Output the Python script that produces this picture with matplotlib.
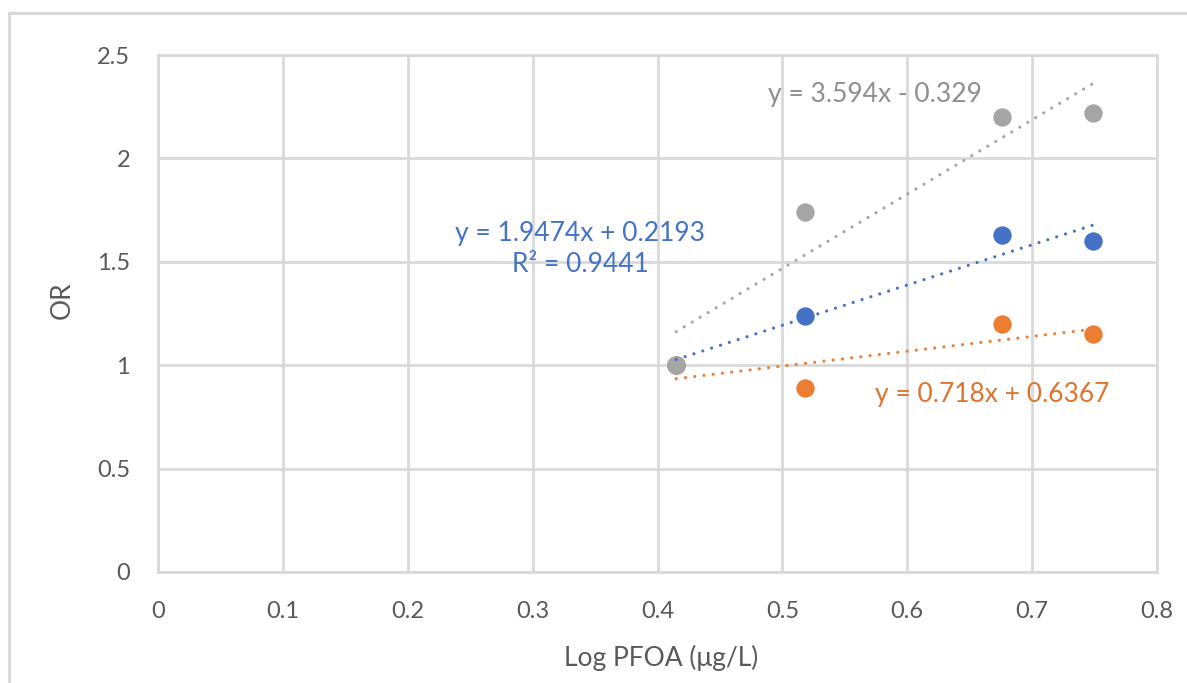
import matplotlib.pyplot as plt
from matplotlib.lines import Line2D
import numpy as np

# Data
log_pfoa = [0.415, 0.518, 0.676, 0.749]
or_blue = [1.00, 1.24, 1.63, 1.60]
or_orange = [1.00, 0.89, 1.20, 1.15]
or_gray = [1.00, 1.74, 2.20, 2.22]

# Trendline coefficients (slope, intercept) as printed
fit_blue = [1.9474, 0.2193]
fit_orange = [0.718, 0.6367]
fit_gray = [3.594, -0.329]

x_ticks = [0, 0.1, 0.2, 0.3, 0.4, 0.5, 0.6, 0.7, 0.8]
y_ticks = [0, 0.5, 1, 1.5, 2, 2.5]

blue = "#4472C4"
orange = "#ED7D31"
gray = "#A5A5A5"
grid_col = "#D9D9D9"
text_col = "#595959"

plt.rcParams['font.family'] = ['Lato', 'DejaVu Sans']

fig = plt.figure(figsize=(11.87, 6.83), dpi=100)
ax = fig.add_axes([158/1187, 1 - 572/683, 999/1187, 517/683])

# outer chart border (left and top visible)
fig.add_artist(Line2D([9/1187, 9/1187], [0, 1 - 13/683], color=grid_col, lw=2.2,
                      transform=fig.transFigure))
fig.add_artist(Line2D([9/1187, 1], [1 - 13/683, 1 - 13/683], color=grid_col, lw=2.2,
                      transform=fig.transFigure))

for ys, col in [(or_blue, blue), (or_orange, orange), (or_gray, gray)]:
    ax.scatter(log_pfoa, ys, s=175, color=col, zorder=3, linewidths=0)

xs = np.array([min(log_pfoa), max(log_pfoa)])
for fit, col in [(fit_blue, blue), (fit_orange, orange), (fit_gray, gray)]:
    ax.plot(xs, fit[0] * xs + fit[1], color=col, lw=2.3,
            linestyle=(0, (0.01, 2.9)), dash_capstyle='round', zorder=4)

ax.text(0.574, 2.307, "y = 3.594x - 0.329", color="#8E8E8E", fontsize=19,
        ha='center', va='center')
ax.text(0.338, 1.562, "y = 1.9474x + 0.2193\nR² = 0.9441", color=blue, fontsize=19,
        ha='center', va='center', linespacing=1.3)
ax.text(0.668, 0.856, "y = 0.718x + 0.6367", color="#DD7430", fontsize=19,
        ha='center', va='center')

ax.set_xlim(0, 0.8)
ax.set_ylim(0, 2.5)
ax.set_xticks(x_ticks)
ax.set_yticks(y_ticks)
ax.set_xticklabels([f"{v:g}" for v in x_ticks])
ax.set_yticklabels([f"{v:g}" for v in y_ticks])
ax.grid(True, color=grid_col, lw=2)
ax.set_axisbelow(True)
for sp in ax.spines.values():
    sp.set_color(grid_col)
    sp.set_linewidth(2)
ax.tick_params(length=0, colors=text_col, labelsize=17)
ax.tick_params(axis='y', pad=20)
ax.tick_params(axis='x', pad=21)

fig.text(62/1187, 1 - 300/683, "OR", rotation=90, ha='center', va='center',
         color=text_col, fontsize=19)
fig.text(661/1187, 1 - 658/683, "Log PFOA (μg/L)", ha='center', va='center',
         color=text_col, fontsize=19)

plt.savefig("out.png", dpi=100)
